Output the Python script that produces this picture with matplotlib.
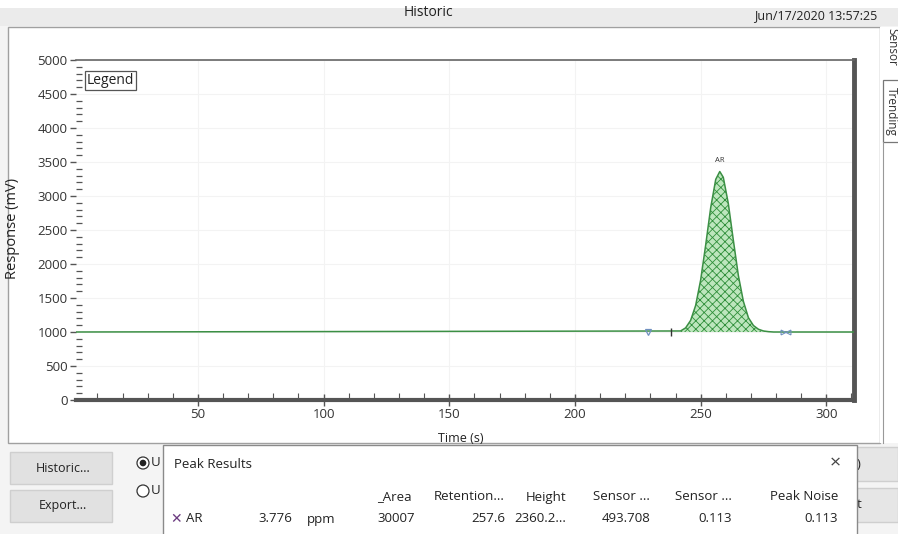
import matplotlib.pyplot as plt
import numpy as np
from matplotlib.patches import Rectangle, Circle

# cromatograma: tiempo (s) y respuesta (mV)
tiempos = [0, 242, 244, 246, 248, 250, 252, 254, 256, 257.6, 259, 261, 263, 265,
           267, 269, 271, 273, 275, 277, 279, 311]
respuesta = [1000, 1015, 1060, 1170, 1390, 1765, 2280, 2830, 3245, 3360, 3275, 2890,
             2350, 1830, 1450, 1210, 1095, 1040, 1015, 1005, 1000, 1000]
linea_base = 1000
inicio_pico, fin_pico = 242, 279
nombre_pico = 'AR'
retencion = 257.6
altura = 2360.2

# marcas de integracion sobre la linea base
marca_v = 229
marca_inicio = 238.3
marca_fin = 283.7

columnas = ['_Area', 'Retention...', 'Height', 'Sensor ...', 'Sensor ...', 'Peak Noise']
fila = ['30007', '257.6', '2360.2...', '493.708', '0.113', '0.113']
concentracion = '3.776'
unidad = 'ppm'
fecha = 'Jun/17/2020 13:57:25'

plt.rcParams['font.family'] = ['Open Sans', 'DejaVu Sans']
plt.rcParams['hatch.linewidth'] = 0.6

W, H = 898, 534
fig = plt.figure(figsize=(W / 100, H / 100), dpi=100)
fig.patch.set_facecolor('#f4f4f4')

# fondo de la ventana en pixeles
bg = fig.add_axes([0, 0, 1, 1])
bg.set_xlim(0, W)
bg.set_ylim(H, 0)
bg.axis('off')
bg.add_patch(Rectangle((0, 0), W, 8, facecolor='white', edgecolor='none'))
bg.add_patch(Rectangle((0, 8), W, 18, facecolor='#ebebeb', edgecolor='none'))
bg.text(428, 12, 'Historic', ha='center', va='center', fontsize=10, color='#222')
bg.text(816, 16, fecha, ha='center', va='center', fontsize=9, color='#222')
bg.add_patch(Rectangle((8, 27), 872, 416, facecolor='white', edgecolor='#a0a0a0', lw=1))

# pestañas laterales
bg.add_patch(Rectangle((880, 27), 18, 416, facecolor='white', edgecolor='none'))
bg.text(892, 47, 'Sensor', rotation=270, ha='center', va='center', fontsize=8.5, color='#333')
bg.add_patch(Rectangle((883, 80), 16, 62, facecolor='white', edgecolor='#777', lw=0.9))
bg.text(891, 111, 'Trending', rotation=270, ha='center', va='center', fontsize=8.5, color='#333')
bg.plot([883, 883], [142, 443], color='#999', lw=0.8)

# botones inferiores
for y0, txt in [(452, 'Historic...'), (490, 'Export...')]:
    bg.add_patch(Rectangle((10, y0), 102, 32, facecolor='#e1e1e1', edgecolor='#cfcfcf', lw=1))
    bg.text(63, y0 + 16, txt, ha='center', va='center', fontsize=9, color='#222')
bg.add_patch(Circle((143, 463), 6, facecolor='white', edgecolor='#333', lw=0.9))
bg.add_patch(Circle((143, 463), 3.3, facecolor='#222', edgecolor='none'))
bg.add_patch(Circle((143, 491), 6, facecolor='white', edgecolor='#333', lw=0.9))
bg.text(151, 463, 'U', va='center', fontsize=9.5, color='#222')
bg.text(151, 491, 'U', va='center', fontsize=9.5, color='#222')
for y0, txt in [(447, ')'), (488, 't')]:
    bg.add_patch(Rectangle((850, y0), 48, 34, facecolor='#e6e6e6', edgecolor='#cfcfcf', lw=1))
    bg.text(857, y0 + 17, txt, va='center', fontsize=9.5, color='#222')

# panel de resultados
fs = 9.5
bg.add_patch(Rectangle((163, 445), 694, 100, facecolor='white', edgecolor='#8a8a8a', lw=1, zorder=3))
bg.text(174, 465, 'Peak Results', va='center', fontsize=fs, color='#222', zorder=4)
bg.text(835, 463, '×', ha='center', va='center', fontsize=14, color='#444', zorder=4)
bg.text(170, 519, '✕', va='center', fontsize=10, color='#6b3a80', family='DejaVu Sans', zorder=4)
bg.text(186, 519, nombre_pico, va='center', fontsize=fs, color='#222', zorder=4)
bg.text(258, 519, concentracion, va='center', fontsize=fs, color='#222', zorder=4)
bg.text(307, 519, unidad, va='center', fontsize=fs, color='#222', zorder=4)
derechas = [None, 505, 566, 650, 732, 838]
for i, (col, val) in enumerate(zip(columnas, fila)):
    if derechas[i] is None:
        bg.text(377, 497, col, va='center', fontsize=fs, color='#222', zorder=4)
        bg.text(377, 519, val, va='center', fontsize=fs, color='#222', zorder=4)
    else:
        bg.text(derechas[i], 497, col, ha='right', va='center', fontsize=fs, color='#222', zorder=4)
        bg.text(derechas[i], 519, val, ha='right', va='center', fontsize=fs, color='#222', zorder=4)

# grafico
ax = fig.add_axes([76 / W, 134 / H, 778 / W, 340 / H])
ax.set_facecolor('white')
ax.set_xlim(1.5, 311)
ax.set_ylim(0, 5000)

t = np.array(tiempos)
r = np.array(respuesta)
en_pico = (t >= inicio_pico) & (t <= fin_pico)
ax.fill_between(t[en_pico], linea_base, r[en_pico], facecolor='#bde6bd',
                edgecolor='#2f8f3a', hatch='xxxx', linewidth=0, zorder=2)
ax.plot(t, r, color='#3b8f44', lw=1.1, zorder=3)
ax.text(retencion, linea_base + altura + 110, nombre_pico, ha='center', va='bottom',
        fontsize=5.5, color='#333')

ax.plot([marca_v], [linea_base], marker='v', ms=4, mfc='none', mec='#7090c0', mew=0.9, zorder=4)
ax.plot([marca_inicio], [linea_base], marker='|', ms=6, mec='#333', mew=1, zorder=4)
ax.plot([marca_fin - 1], [linea_base], marker='>', ms=3.5, mfc='none', mec='#7090c0', mew=0.8, zorder=4)
ax.plot([marca_fin + 1], [linea_base], marker='<', ms=3.5, mfc='none', mec='#7090c0', mew=0.8, zorder=4)

ax.text(0.014, 0.962, 'Legend', transform=ax.transAxes, va='top', fontsize=10, color='#222',
        bbox=dict(boxstyle='square,pad=0.15', facecolor='white', edgecolor='#555', lw=0.9))

ax.set_xticks(np.arange(50, 301, 50))
ax.set_xticks(np.arange(10, 311, 10), minor=True)
ax.set_yticks(np.arange(0, 5001, 500))
ax.set_yticks(np.arange(0, 5001, 100), minor=True)
ax.tick_params(axis='x', which='major', direction='inout', length=8, width=1, colors='#555',
               labelsize=9.5, labelcolor='#333', pad=2)
ax.tick_params(axis='x', which='minor', direction='in', length=5, width=0.8, colors='#555')
ax.tick_params(axis='y', which='major', direction='out', length=4, width=1, colors='#555',
               labelsize=9.5, labelcolor='#333', pad=2)
ax.tick_params(axis='y', which='minor', direction='in', length=4, width=0.9, colors='#555')
ax.grid(which='major', color='#f3f3f3', lw=0.8)
ax.set_axisbelow(True)

ax.spines['left'].set_visible(False)
ax.spines['top'].set_color('#666')
ax.spines['top'].set_linewidth(1.2)
ax.spines['right'].set_color('#555')
ax.spines['right'].set_linewidth(3.5)
ax.spines['bottom'].set_color('#555')
ax.spines['bottom'].set_linewidth(3)

ax.set_xlabel('Time (s)', fontsize=9, color='#222')
ax.set_ylabel('Response (mV)', fontsize=10.5, color='#222')
ax.xaxis.set_label_coords((461 - 76) / 778, -(432 - 400) / 340)
ax.yaxis.set_label_coords((20 - 76) / 778, (400 - 228) / 340)

fig.savefig('out.png', dpi=100)
